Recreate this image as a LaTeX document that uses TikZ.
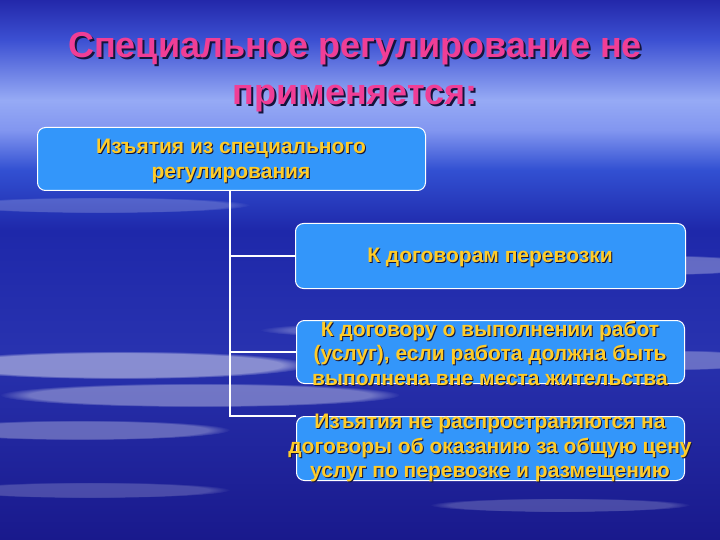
\documentclass[tikz,border=0pt]{standalone}
\usepackage{fontspec}
\setmainfont{Liberation Sans}
\usetikzlibrary{fadings}
\definecolor{boxblue}{RGB}{51,150,250}
\definecolor{gold}{RGB}{255,204,40}
\definecolor{pinktitle}{RGB}{240,62,150}
\definecolor{shadowc}{RGB}{20,20,60}
\definecolor{sk0}{RGB}{35,40,170}
\definecolor{sk1}{RGB}{60,80,210}
\definecolor{sk2}{RGB}{150,170,245}
\definecolor{sk3}{RGB}{130,150,240}
\definecolor{sk4}{RGB}{50,80,210}
\definecolor{sk5}{RGB}{30,40,170}
\definecolor{sk6}{RGB}{40,50,175}
\definecolor{sk7}{RGB}{25,25,140}
\pgfdeclareverticalshading{sky}{100bp}{
  color(0bp)=(sk7);
  color(25bp)=(sk7);
  color(42.59bp)=(sk6);
  color(53.70bp)=(sk5);
  color(59.26bp)=(sk4);
  color(62.96bp)=(sk3);
  color(65.74bp)=(sk2);
  color(71.30bp)=(sk1);
  color(75bp)=(sk0);
  color(100bp)=(sk0)}
\tikzset{
  box/.style={draw=white, line width=1pt, fill=boxblue, rounded corners=8pt, anchor=north west, inner sep=0pt},
  btext/.style={text=gold, align=center, font=\bfseries\fontsize{21}{24.5}\selectfont, inner sep=0pt},
  ttext/.style={text=pinktitle, align=center, font=\bfseries\fontsize{36}{47}\selectfont, inner sep=0pt},
  shad/.style={text=shadowc},
  conn/.style={draw=white, line width=2pt},
  cloud/.style={fill=white, path fading=circle with fuzzy edge 15 percent}
}
\begin{document}
\begin{tikzpicture}[x=1pt,y=-1pt]
\useasboundingbox (0,0) rectangle (720,540);
\shade[shading=sky] (0,0) rectangle (720,540);
% cloud streaks
\fill[cloud, opacity=0.45] (120,365) ellipse (190 and 14);
\fill[cloud, opacity=0.35] (200,395) ellipse (200 and 12);
\fill[cloud, opacity=0.3] (80,430) ellipse (150 and 10);
\fill[cloud, opacity=0.25] (460,330) ellipse (200 and 9);
\fill[cloud, opacity=0.3] (660,265) ellipse (110 and 10);
\fill[cloud, opacity=0.3] (680,360) ellipse (90 and 10);
\fill[cloud, opacity=0.2] (90,490) ellipse (140 and 8);
\fill[cloud, opacity=0.2] (560,505) ellipse (130 and 7);
\fill[cloud, opacity=0.2] (100,205) ellipse (150 and 8);
% title
\node[ttext, shad] (titles) at (357,74) {Специальное регулирование не\\применяется:};
\node[ttext] (title) at (355,72) {Специальное регулирование не\\применяется:};
% boxes
\node[box, minimum width=388pt, minimum height=63pt] (b1) at (37,127) {};
\node[box, minimum width=390pt, minimum height=65pt] (b2) at (295,223) {};
\node[box, minimum width=388pt, minimum height=63pt] (b3) at (296,320) {};
\node[box, minimum width=388pt, minimum height=64pt] (b4) at (296,416) {};
% connectors
\coordinate (top) at (230,190);
\draw[conn] (top) |- (b4.north west);
\draw[conn] (top |- b2.west) -- (b2.west);
\draw[conn] (top |- b3.west) -- (b3.west);
% texts
\node[btext, shad] (t1s) at (232,162) {Изъятия из специального\\регулирования};
\node[btext] (t1) at (231,161) {Изъятия из специального\\регулирования};
\node[btext, shad] (t2s) at (491,258) {К договорам перевозки};
\node[btext] (t2) at (490,257) {К договорам перевозки};
\node[btext, shad] (t3s) at (491,354) {К договору о выполнении работ\\(услуг), если работа должна быть\\выполнена вне места жительства};
\node[btext] (t3) at (490,353) {К договору о выполнении работ\\(услуг), если работа должна быть\\выполнена вне места жительства};
\node[btext, shad] (t4s) at (491,449) {Изъятия не распространяются на\\договоры об оказанию за общую цену\\услуг по перевозке и размещению};
\node[btext] (t4) at (490,448) {Изъятия не распространяются на\\договоры об оказанию за общую цену\\услуг по перевозке и размещению};
\end{tikzpicture}
\end{document}
